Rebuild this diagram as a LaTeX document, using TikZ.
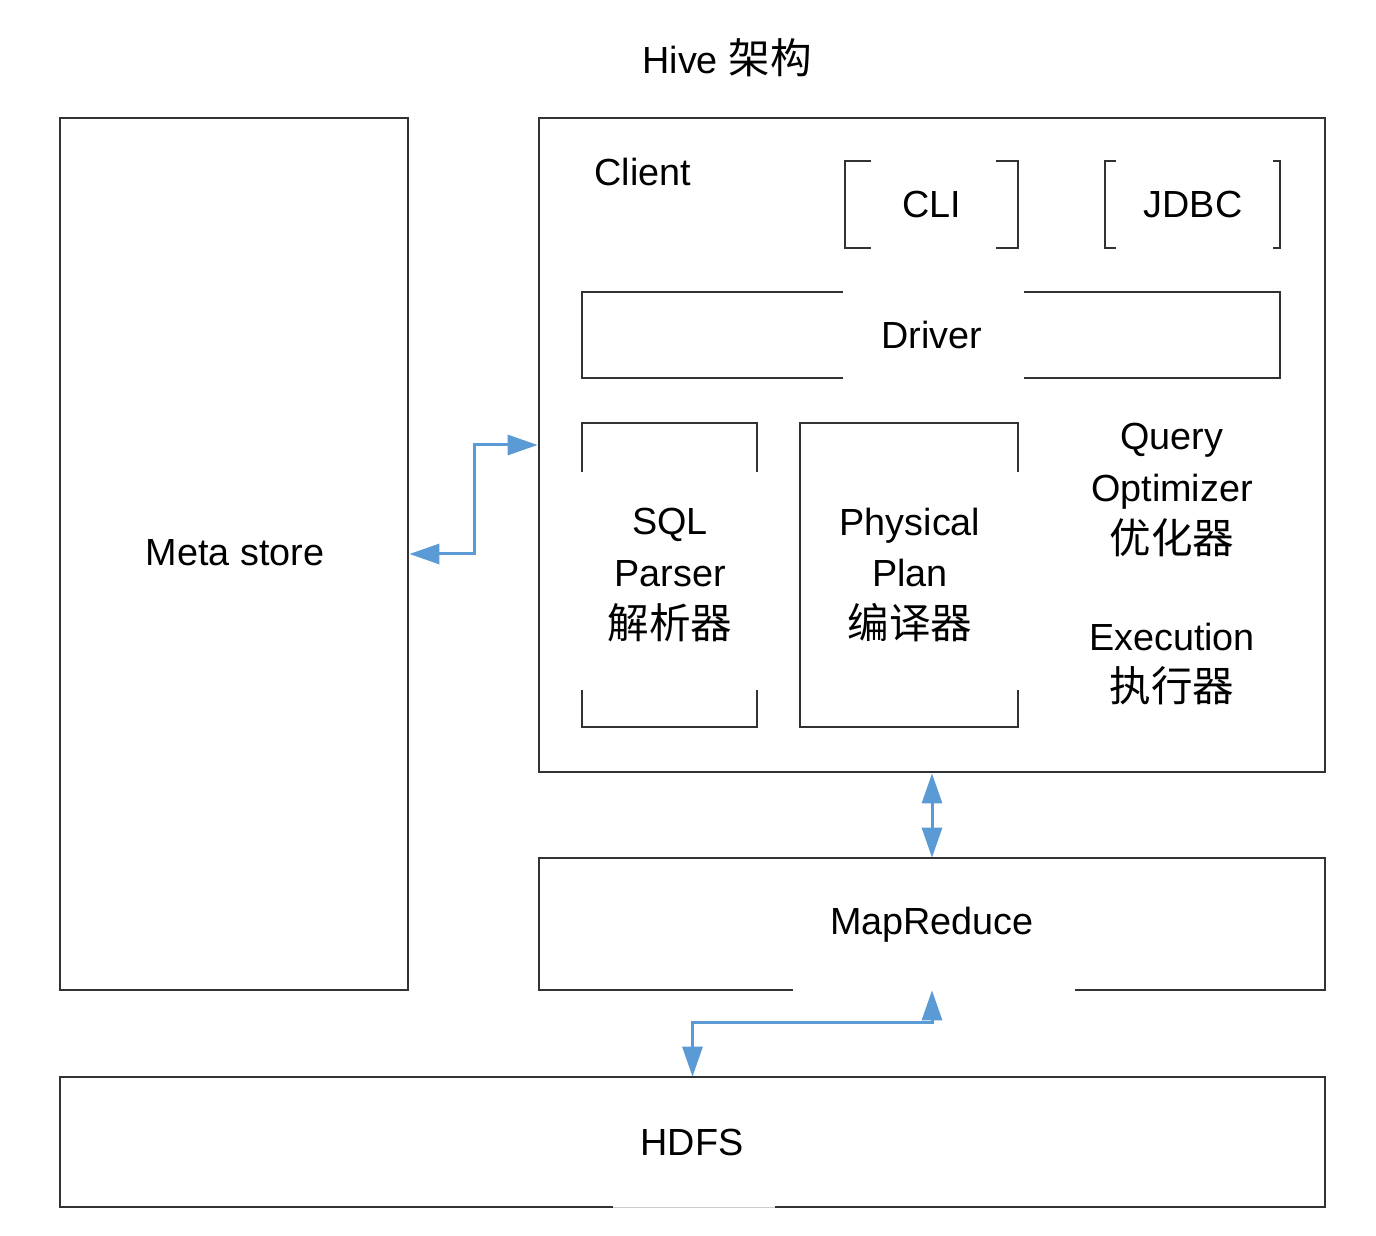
\documentclass[tikz,border=0pt]{standalone}
\usepackage{fontspec}
\setmainfont{Liberation Sans}
\newfontfamily\cjk[Scale=1.1]{Noto Sans CJK SC}
\usetikzlibrary{arrows.meta,fit}
\definecolor{framegray}{RGB}{50,50,50}
\definecolor{linkblue}{RGB}{91,155,213}
\begin{document}
\begin{tikzpicture}[x=0.02cm, y=-0.02cm,
    frame/.style={draw=framegray, line width=0.055cm},
    area/.style={inner sep=0pt},
    txt/.style={font=\fontsize{21.5}{29.5}\selectfont, align=center, inner sep=0pt},
    link/.style={draw=linkblue, line width=0.06cm,
        {Triangle[length=0.6cm, width=0.4cm]}-{Triangle[length=0.6cm, width=0.4cm]}}]
    \useasboundingbox (0, 0) rectangle (1376, 1236);

    \node[txt] (title) at (727, 58) {Hive {\cjk 架构}};

    \node[area, frame, fit={(60, 118) (408, 990)}] (meta) {};
    \node[txt] (metatxt) at (235, 553) {Meta store};

    \node[area, frame, fit={(539, 118) (1325, 772)}] (client) {};
    \node[txt, anchor=base west] (clienttxt) at (594, 186) {Client};

    \draw[frame] (871, 161) -- (845, 161) -- (845, 248) -- (871, 248);
    \draw[frame] (996, 161) -- (1018, 161) -- (1018, 248) -- (996, 248);
    \node[txt] (cli) at (932, 205) {CLI};

    \draw[frame] (1116, 161) -- (1105, 161) -- (1105, 248) -- (1116, 248);
    \draw[frame] (1273, 161) -- (1280, 161) -- (1280, 248) -- (1273, 248);
    \node[txt] (jdbc) at (1193, 205) {JDBC};

    \draw[frame] (843, 292) -- (582, 292) -- (582, 378) -- (843, 378);
    \draw[frame] (1024, 292) -- (1280, 292) -- (1280, 378) -- (1024, 378);
    \node[txt] (driver) at (932, 335) {Driver};

    \draw[frame] (582, 472) -- (582, 423) -- (757, 423) -- (757, 472);
    \draw[frame] (582, 690) -- (582, 727) -- (757, 727) -- (757, 690);
    \node[txt] (parser) at (670, 575) {SQL\\Parser\\{\cjk 解析器}};

    \draw[frame] (1018, 472) -- (1018, 423) -- (800, 423) -- (800, 727) -- (1018, 727) -- (1018, 690);
    \node[txt] (plan) at (910, 575) {Physical\\Plan\\{\cjk 编译器}};

    \node[txt] (optimizer) at (1172, 490) {Query\\Optimizer\\{\cjk 优化器}};
    \node[txt] (execution) at (1172, 664) {Execution\\{\cjk 执行器}};

    \node[area, fit={(539, 858) (1325, 990)}] (mr) {};
    \draw[frame] (793, 990) -- (539, 990) -- (539, 858) -- (1325, 858) -- (1325, 990) -- (1075, 990);
    \node[txt] (mrtxt) at (932, 925) {MapReduce};

    \node[area, fit={(60, 1077) (1325, 1207)}] (hdfs) {};
    \draw[frame] (613, 1207) -- (60, 1207) -- (60, 1077) -- (1325, 1077) -- (1325, 1207) -- (775, 1207);
    \draw[gray!40, line width=0.02cm] (613, 1207) -- (775, 1207);
    \node[txt] (hdfstxt) at (692, 1142) {HDFS};

    \draw[link] (meta.east) -- ++(65, 0) |- (client.west);
    \draw[link] (client.south) -- (mr.north);
    \draw[link] (mr.south) -- ++(0, 32) -| (hdfs.north);
\end{tikzpicture}
\end{document}
